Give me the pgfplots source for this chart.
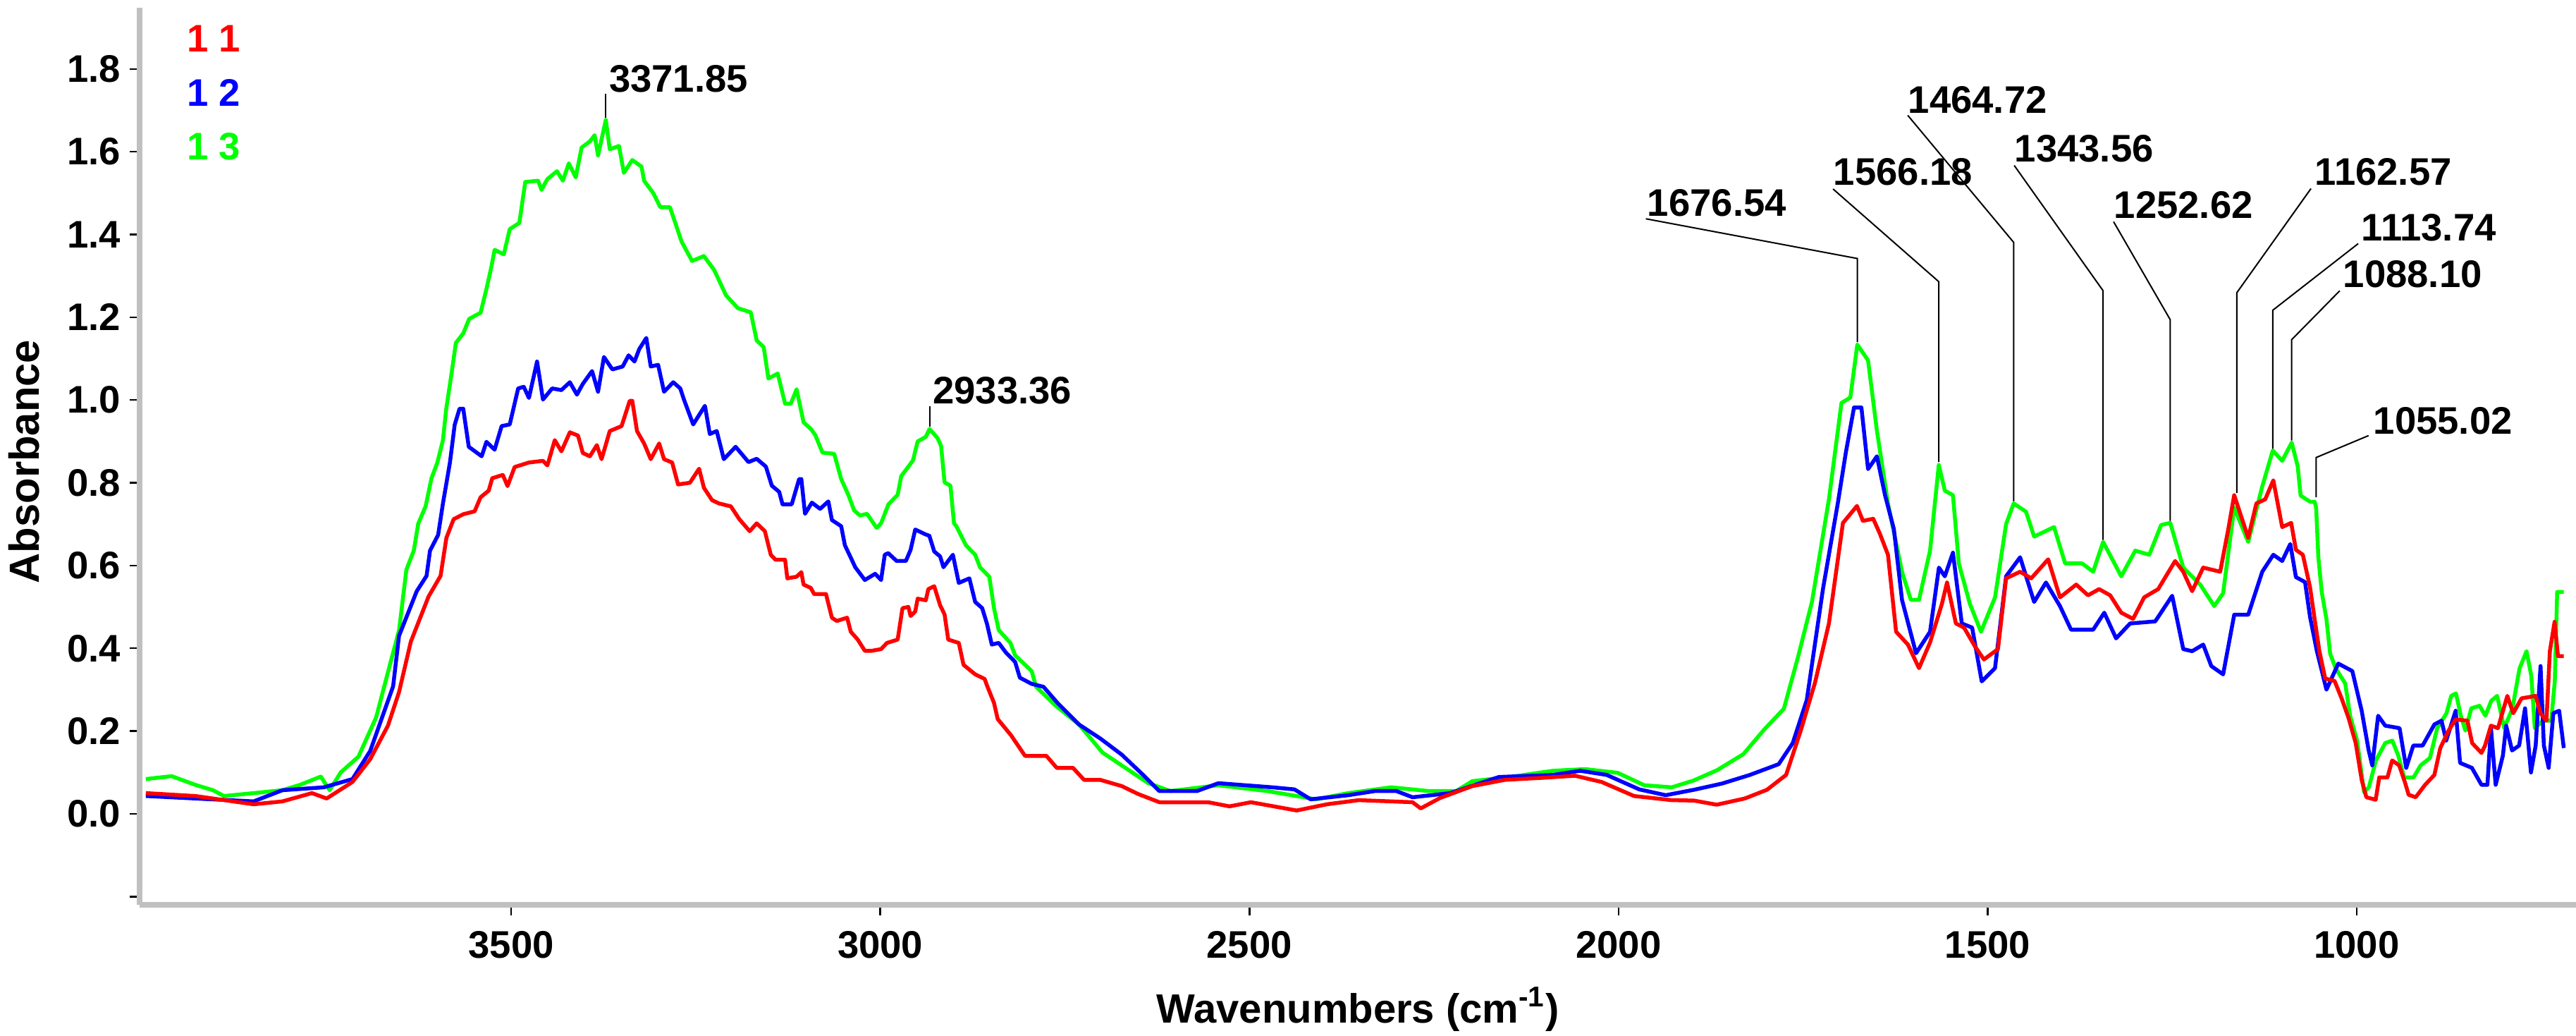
\documentclass[border=0pt]{standalone}
\usepackage{pgfplots}
\usepackage{pgfplotstable}
\pgfplotsset{compat=1.18}
\usepackage{fontspec}
\setmainfont{Liberation Sans}

\definecolor{axisgray}{RGB}{192,192,192}
\definecolor{spred}{RGB}{255,0,0}
\definecolor{spblue}{RGB}{0,0,255}
\definecolor{spgreen}{RGB}{0,255,0}

% spectrum 1 3 (green)
\pgfplotstableread{
wn a
3995 0.084
3960 0.091
3928 0.070
3904 0.057
3889 0.043
3849 0.050
3810 0.057
3786 0.070
3758 0.090
3746 0.057
3731 0.100
3707 0.138
3683 0.233
3667 0.342
3652 0.443
3642 0.590
3632 0.636
3626 0.701
3616 0.743
3608 0.811
3600 0.849
3592.5 0.903
3588 0.979
3581 1.062
3575 1.138
3565 1.161
3557 1.196
3541.5 1.211
3533.6 1.268
3527 1.321
3522.5 1.363
3510 1.352
3502 1.413
3489 1.428
3481 1.527
3463.6 1.530
3459 1.508
3451 1.534
3438 1.553
3430 1.530
3422 1.572
3412.6 1.538
3404.7 1.610
3393.5 1.625
3387 1.640
3382.4 1.591
3371.85 1.677
3366.5 1.606
3354 1.614
3347.4 1.549
3336 1.580
3323.5 1.564
3320 1.530
3307.6 1.500
3298 1.466
3285 1.466
3269 1.382
3255 1.336
3239 1.348
3225 1.314
3209 1.253
3193 1.222
3175.5 1.212
3167.5 1.144
3158 1.128
3151.6 1.052
3139 1.064
3129 0.991
3121.3 0.991
3113.4 1.026
3104 0.946
3094 0.930
3088 0.915
3078.4 0.873
3062.5 0.870
3053 0.809
3043.4 0.771
3035.4 0.733
3027.5 0.721
3018 0.725
3005 0.691
2999 0.702
2989 0.748
2976.5 0.771
2971.7 0.816
2955.8 0.854
2949.4 0.900
2938.4 0.911
2933.36 0.930
2922.5 0.908
2917.7 0.889
2913 0.801
2905 0.793
2900.2 0.702
2897 0.695
2884 0.649
2871.5 0.626
2865 0.596
2852.4 0.573
2846 0.497
2839.6 0.444
2823.8 0.413
2817.4 0.383
2795 0.345
2789 0.307
2763 0.262
2731 0.216
2699 0.148
2658 0.099
2637 0.074
2607 0.055
2542 0.069
2476 0.055
2410 0.035
2366 0.050
2308 0.064
2257 0.055
2220 0.055
2198 0.079
2147 0.089
2089 0.104
2045 0.108
2001 0.099
1965 0.069
1928 0.064
1899 0.080
1867 0.105
1831 0.144
1803 0.203
1776 0.254
1757 0.378
1738 0.512
1715 0.760
1698 0.993
1686 1.006
1676.54 1.134
1662 1.096
1650 0.926
1635 0.750
1616 0.585
1604 0.517
1593 0.517
1578 0.636
1566.18 0.843
1558 0.781
1547 0.770
1539 0.605
1524 0.507
1509 0.440
1490 0.523
1475 0.700
1464.72 0.750
1448 0.730
1437 0.670
1410 0.693
1395 0.605
1372 0.605
1357 0.585
1343.56 0.657
1319 0.574
1300 0.636
1281 0.626
1265 0.698
1252.62 0.703
1235 0.595
1212 0.554
1193 0.502
1181 0.533
1166 0.740
1147 0.657
1128 0.791
1113.74 0.878
1101 0.853
1088.10 0.897
1080 0.840
1076 0.769
1063 0.754
1057 0.754
1055 0.740
1052 0.620
1047.4 0.536
1041 0.470
1036 0.387
1028.4 0.351
1015.6 0.315
1009 0.237
999.5 0.177
990 0.052
983.6 0.064
974 0.129
961.4 0.171
951.8 0.177
943.8 0.141
935.8 0.088
923 0.088
913.5 0.117
900.8 0.135
891 0.207
878.4 0.243
872 0.285
865.6 0.291
859 0.237
852.8 0.201
844.8 0.255
833.7 0.261
825.7 0.237
817.8 0.273
809.8 0.285
800.2 0.207
789 0.255
779.5 0.351
770 0.393
763.5 0.333
758.8 0.207
747.7 0.225
736.5 0.225
731.7 0.321
728.5 0.536
719.5 0.536
}\greendata

% spectrum 1 2 (blue)
\pgfplotstableread{
wn a
3995 0.043
3928 0.037
3849 0.030
3810 0.057
3754 0.064
3715 0.084
3691 0.152
3660 0.308
3652 0.430
3628 0.538
3614.7 0.575
3610 0.636
3599 0.674
3592.5 0.750
3583 0.849
3576.6 0.940
3570 0.979
3565 0.979
3557.5 0.887
3540 0.864
3533.6 0.899
3522.5 0.880
3513 0.937
3502 0.941
3490.6 1.028
3483 1.032
3476 1.005
3465 1.093
3457 1.001
3444.6 1.028
3432 1.024
3420.6 1.043
3411 1.013
3403 1.039
3390.5 1.070
3382.4 1.020
3374.4 1.104
3363 1.074
3349 1.081
3341 1.108
3333 1.093
3326.6 1.123
3317 1.150
3311 1.081
3301 1.085
3293 1.020
3280.5 1.043
3271 1.028
3266 1.001
3253.5 0.941
3237.6 0.986
3231 0.918
3221.6 0.925
3212 0.857
3196 0.887
3178.6 0.850
3167.5 0.858
3155 0.839
3147 0.793
3137 0.778
3132.5 0.748
3120 0.748
3110 0.809
3107 0.809
3102 0.725
3092.7 0.752
3081.6 0.737
3070.4 0.755
3065.6 0.710
3053 0.695
3048 0.649
3040 0.619
3034 0.596
3021 0.565
3007 0.580
2999 0.565
2994 0.626
2989.3 0.630
2978 0.611
2965.4 0.611
2959 0.638
2952.7 0.687
2938.4 0.675
2933.6 0.672
2927 0.634
2919 0.622
2914.5 0.596
2901.7 0.626
2893.7 0.558
2879.4 0.569
2871.5 0.512
2862 0.497
2855.5 0.459
2849 0.409
2839.6 0.413
2830 0.390
2817.4 0.367
2811 0.329
2795 0.314
2779 0.307
2760 0.268
2731 0.216
2702 0.182
2673 0.143
2644 0.094
2622 0.055
2571 0.055
2542 0.074
2469 0.064
2439 0.059
2417 0.035
2366 0.045
2330 0.055
2301 0.055
2279 0.040
2228 0.050
2162 0.089
2089 0.094
2052 0.104
2016 0.094
1972 0.059
1936 0.045
1898 0.058
1860 0.073
1822 0.094
1783 0.120
1764 0.171
1745 0.275
1723 0.544
1703 0.750
1692 0.874
1681 0.982
1671 0.982
1662 0.833
1650 0.864
1639 0.770
1627 0.688
1616 0.517
1597 0.388
1578 0.440
1566 0.595
1558 0.574
1547 0.631
1535 0.460
1521 0.450
1508 0.320
1490 0.352
1475 0.574
1456 0.620
1437 0.512
1421 0.559
1402 0.502
1387 0.445
1357 0.445
1342 0.486
1326 0.424
1307 0.460
1273 0.465
1250 0.527
1235 0.398
1223 0.393
1208 0.409
1197 0.357
1181 0.337
1166 0.481
1147 0.481
1128 0.585
1113 0.626
1101 0.611
1090 0.652
1082.4 0.572
1070 0.560
1063.3 0.476
1054 0.393
1041 0.300
1025 0.363
1006 0.345
993.3 0.249
983.8 0.153
979 0.117
971 0.237
961.4 0.213
942 0.207
933 0.111
923.4 0.165
910.7 0.165
894.8 0.216
885.2 0.225
878.8 0.177
866 0.249
860 0.123
844 0.111
831 0.070
823 0.070
818.2 0.207
811.8 0.070
802 0.141
797.6 0.213
789.6 0.153
780 0.165
772 0.255
764 0.100
757.6 0.165
751 0.357
746.5 0.165
740 0.111
733.7 0.243
725.8 0.249
719.5 0.159
}\bluedata

% spectrum 1 1 (red)
\pgfplotstableread{
wn a
3995 0.050
3928 0.043
3849 0.023
3810 0.030
3770 0.050
3750 0.037
3715 0.077
3691 0.132
3667 0.213
3652 0.294
3636 0.416
3612 0.525
3595.7 0.575
3587.8 0.667
3578 0.712
3565 0.724
3549.6 0.731
3541.5 0.765
3530.5 0.781
3525.7 0.811
3511.4 0.819
3505 0.792
3495.4 0.838
3476 0.849
3457 0.853
3451 0.842
3441 0.903
3432 0.876
3420.6 0.922
3409.5 0.914
3403 0.872
3393.5 0.864
3384 0.891
3377.6 0.857
3366.5 0.925
3350.5 0.937
3339.5 0.998
3336 0.998
3329.6 0.925
3320 0.895
3311 0.857
3299.6 0.895
3293 0.857
3282 0.849
3274 0.796
3258 0.800
3245.5 0.834
3239 0.788
3228 0.758
3218.5 0.750
3202.5 0.743
3191 0.712
3177 0.683
3167.5 0.702
3156.4 0.683
3148.4 0.626
3142 0.614
3129 0.614
3126 0.569
3113.4 0.573
3107 0.584
3104 0.554
3094.3 0.546
3089.6 0.531
3073.6 0.531
3065.6 0.474
3059 0.466
3045 0.474
3040 0.440
3030.6 0.421
3021 0.394
3011.5 0.394
2999 0.398
2991 0.413
2976.5 0.421
2970 0.497
2962 0.500
2959 0.478
2952.7 0.489
2949.4 0.520
2938.4 0.516
2935 0.543
2927 0.550
2919 0.504
2913 0.482
2908 0.421
2893.7 0.413
2887.3 0.360
2871.5 0.337
2858.7 0.326
2855.5 0.310
2846 0.268
2841 0.229
2823 0.190
2804 0.140
2775 0.140
2761 0.111
2739 0.111
2724 0.082
2702 0.082
2673 0.067
2651 0.048
2622 0.028
2556 0.028
2527 0.018
2498 0.028
2436 0.008
2395 0.023
2352 0.033
2279 0.028
2268 0.013
2242 0.038
2198 0.067
2154 0.082
2103 0.087
2059 0.092
2023 0.077
1979 0.043
1928 0.033
1898 0.032
1867 0.022
1829 0.037
1799 0.058
1773 0.094
1753 0.202
1734 0.316
1715 0.460
1696 0.703
1677 0.744
1669 0.708
1655 0.713
1646 0.677
1635 0.626
1624 0.440
1608 0.409
1593 0.352
1578 0.414
1562 0.507
1555 0.559
1543 0.460
1532 0.450
1517 0.404
1505 0.373
1486 0.398
1475 0.569
1456 0.585
1441 0.569
1418 0.615
1402 0.523
1380 0.554
1364 0.528
1349 0.543
1334 0.528
1319 0.486
1303 0.471
1288 0.523
1269 0.543
1246 0.611
1235 0.585
1223 0.538
1208 0.595
1185 0.585
1174 0.688
1166 0.770
1147 0.667
1136 0.750
1124 0.760
1113 0.806
1101 0.693
1088.8 0.703
1082.4 0.638
1073 0.626
1063.3 0.548
1057 0.470
1050.6 0.393
1042.7 0.327
1030 0.321
1020.5 0.279
1011 0.231
1001.4 0.171
993.3 0.082
987 0.040
974.3 0.034
969.5 0.088
958.4 0.088
952 0.129
942.5 0.117
934.5 0.075
929.7 0.046
920.2 0.040
907.4 0.070
894.8 0.094
886.8 0.159
875.6 0.201
866 0.228
850 0.225
843.7 0.171
831 0.147
826.2 0.165
818.2 0.213
808.7 0.207
796 0.285
788 0.243
776.8 0.279
757.6 0.285
751 0.243
743 0.225
738.4 0.393
732 0.464
727.4 0.381
719.5 0.381
}\reddata

\begin{document}
\begin{tikzpicture}
\begin{axis}[
    at={(0,0)}, anchor=south west,
    scale only axis,
    width=345.55mm, height=127.2mm,
    x dir=reverse,
    xmin=703, xmax=4003,
    ymin=-0.22, ymax=1.948,
    axis x line*=bottom, axis y line*=left,
    axis line style={-, line width=0.8mm, axisgray},
    xtick={1000,1500,2000,2500,3000,3500},
    xticklabels={1000,1500,2000,2500,3000,3500},
    minor xtick={800,900,...,3900},
    ytick={-0.2,0,0.2,0.4,0.6,0.8,1.0,1.2,1.4,1.6,1.8},
    yticklabels={,0.0,0.2,0.4,0.6,0.8,1.0,1.2,1.4,1.6,1.8},
    minor ytick={-0.16,-0.12,...,1.92},
    tick align=outside,
    major tick length=1.45mm,
    minor tick length=0.8mm,
    tick style={black, line width=0.25mm},
    minor x tick style={yshift=0.4mm},
    minor y tick style={xshift=0.4mm},
    ticklabel style={font=\fontsize{15.5}{18}\selectfont\bfseries, inner sep=0pt},
    xticklabel style={anchor=north},
    yticklabel style={anchor=east},
    xticklabel shift=2.2mm,
    yticklabel shift=1.2mm,
    xlabel={Wavenumbers (cm\textsuperscript{-1})},
    ylabel={Absorbance},
    every axis x label/.style={at={(axis description cs:0.5,-0.1313)}, anchor=base, inner sep=0pt,
        font=\fontsize{16.5}{19}\selectfont\bfseries},
    every axis y label/.style={at={(axis description cs:-0.0411,0.494)}, rotate=90, anchor=south, inner sep=0pt,
        font=\fontsize{17}{20}\selectfont\bfseries},
    every axis plot/.append style={line width=0.55mm, line join=round},
]
\addplot[spgreen] table[x=wn, y=a] {\greendata};
\addplot[spblue] table[x=wn, y=a] {\bluedata};
\addplot[spred] table[x=wn, y=a] {\reddata};

% legend
\begin{scope}[every node/.style={anchor=base west, inner sep=0pt, font=\fontsize{15.5}{18}\selectfont\bfseries}]
\node[spred]   at (axis description cs:0.0192,0.9505) {1 1};
\node[spblue]  at (axis description cs:0.0192,0.8900) {1 2};
\node[spgreen] at (axis description cs:0.0192,0.8302) {1 3};
\end{scope}

% peak labels
\begin{scope}[every node/.style={anchor=base west, inner sep=0pt, font=\fontsize{15.5}{18}\selectfont\bfseries},
              leader/.style={black, line width=0.2mm}]
\draw[leader] (3371.85,1.682) -- (3371.85,1.740);
\node at (3368,1.745) {3371.85};
\draw[leader] (2933.36,0.936) -- (2933.36,0.985);
\node at (2929.5,0.991) {2933.36};
\draw[leader] (1676.54,1.14) -- (1676.54,1.342) -- (1963,1.438);
\node at (1961.5,1.445) {1676.54};
\draw[leader] (1566.18,0.85) -- (1566.18,1.286) -- (1709.4,1.510);
\node at (1709.4,1.520) {1566.18};
\draw[leader] (1464.72,0.755) -- (1464.72,1.381) -- (1608.2,1.688);
\node at (1608.2,1.693) {1464.72};
\draw[leader] (1343.56,0.662) -- (1343.56,1.264) -- (1464,1.567);
\node at (1464,1.576) {1343.56};
\draw[leader] (1252.62,0.708) -- (1252.62,1.194) -- (1329.4,1.431);
\node at (1329.4,1.440) {1252.62};
\draw[leader] (1162.57,0.775) -- (1162.57,1.259) -- (1062,1.511);
\node at (1057.2,1.520) {1162.57};
\draw[leader] (1113.74,0.882) -- (1113.74,1.217) -- (998,1.378);
\node at (994.2,1.385) {1113.74};
\draw[leader] (1088.10,0.902) -- (1088.10,1.146) -- (1023,1.264);
\node at (1019,1.273) {1088.10};
\draw[leader] (1055.02,0.765) -- (1055.02,0.861) -- (984,0.914);
\node at (978,0.918) {1055.02};
\end{scope}
\end{axis}
\pgfresetboundingbox
\path[use as bounding box] (-19.85mm,-18.5mm) rectangle (345.55mm,128.3mm);
\end{tikzpicture}
\end{document}
